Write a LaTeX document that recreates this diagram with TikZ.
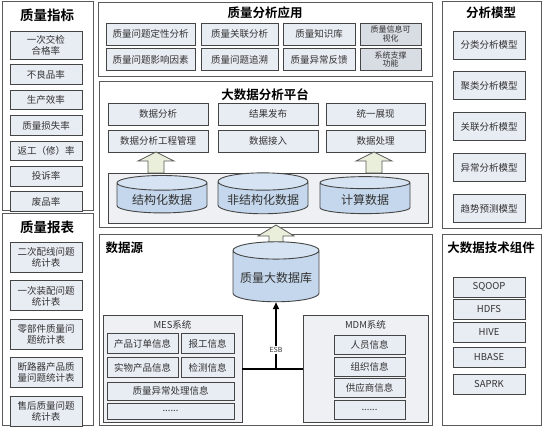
\documentclass[tikz,border=0pt]{standalone}
\usepackage{fontspec}
\setmainfont{Noto Sans CJK SC}[BoldFont={Noto Sans CJK SC Bold}]
\usetikzlibrary{shapes.geometric, arrows.meta, positioning, calc}
\definecolor{panelline}{HTML}{5A5A5A}
\definecolor{boxline}{HTML}{454545}
\definecolor{boxfill}{HTML}{E8ECF3}
\definecolor{darkfill}{HTML}{D8DCE3}
\definecolor{groupfill}{HTML}{EEF0F3}
\definecolor{cylbody}{HTML}{C4D7EC}
\definecolor{cyltop}{HTML}{D6E3F2}
\definecolor{upfill}{HTML}{E9EFDA}
\definecolor{textgrey}{HTML}{333333}

\begin{document}
\begin{tikzpicture}[x=1pt, y=-1pt,
        panel/.style={draw=panelline, line width=1pt, fill=white},
        ptitle/.style={font=\bfseries\fontsize{12.5}{14}\selectfont},
        box/.style={draw=boxline, line width=0.9pt, fill=boxfill, text=textgrey, align=center, inner sep=1pt, font=\fontsize{9.5}{11}\selectfont},
        grp/.style={draw=boxline, line width=0.9pt, fill=groupfill},
        cyl/.style={cylinder, shape border rotate=90, aspect=0.22, draw=boxline, line width=0.9pt, cylinder uses custom fill, cylinder body fill=cylbody, cylinder end fill=cyltop, text=textgrey, font=\fontsize{12}{14}\selectfont},
        uparr/.style={draw=panelline, line width=0.8pt, fill=upfill},
        esb/.style={-{Triangle[length=7pt, width=6pt]}, line width=2pt}
    ]
        \useasboundingbox (0,0) rectangle (543,427);

        % left column
        \draw[panel] (2,2) rectangle (93,211);
        \node[ptitle, font=\bfseries\fontsize{13.5}{15}\selectfont] (zbtitle) at (47,15) {质量指标};
        \node[box, minimum width=72, minimum height=28] (hgl) at (46,45) {一次交检\\合格率};
        \node[box, minimum width=72, minimum height=19.5, below=5pt of hgl] (blp) {不良品率};
        \node[box, minimum width=72, minimum height=19.5, below=5pt of blp] (sxl) {生产效率};
        \node[box, minimum width=72, minimum height=19.5, below=5pt of sxl] (ssl) {质量损失率};
        \node[box, minimum width=72, minimum height=19.5, below=5pt of ssl] (fgl) {返工（修）率};
        \node[box, minimum width=72, minimum height=19.5, below=5pt of fgl] (tsl) {投诉率};
        \node[box, minimum width=72, minimum height=19.5, below=5pt of tsl] (fpl) {废品率};

        \draw[panel] (2,214) rectangle (93,425);
        \node[ptitle, font=\bfseries\fontsize{13.5}{15}\selectfont] (bbtitle) at (47,227) {质量报表};
        \node[box, minimum width=72, minimum height=30] (ecpx) at (46,257.5) {二次配线问题\\统计表};
        \node[box, minimum width=72, minimum height=30, below=7.5pt of ecpx] (yczp) {一次装配问题\\统计表};
        \node[box, minimum width=72, minimum height=30, below=7.5pt of yczp] (lbj) {零部件质量问\\题统计表};
        \node[box, minimum width=72, minimum height=30, below=7.5pt of lbj] (dlq) {断路器产品质\\量问题统计表};
        \node[box, minimum width=72, minimum height=30, below=7.5pt of dlq] (shzl) {售后质量问题\\统计表};

        % quality analysis applications
        \draw[panel] (98,3) rectangle (432,77);
        \node[ptitle] (yytitle) at (265,13) {质量分析应用};
        \node[box, minimum width=89, minimum height=22] (dxfx) at (150.5,34) {质量问题定性分析};
        \node[box, minimum width=77, minimum height=22] (glfx) at (239.5,34) {质量关联分析};
        \node[box, minimum width=72, minimum height=22] (zsk) at (319,34) {质量知识库};
        \node[box, fill=darkfill, minimum width=61, minimum height=22, font=\fontsize{8}{8.5}\selectfont] (ksh) at (390.5,34) {质量信息可\\视化};
        \node[box, minimum width=89, minimum height=22] (yxys) at (150.5,59.5) {质量问题影响因素};
        \node[box, minimum width=77, minimum height=22] (zs) at (239.5,59.5) {质量问题追溯};
        \node[box, minimum width=72, minimum height=22] (ycfk) at (319,59.5) {质量异常反馈};
        \node[box, fill=darkfill, minimum width=61, minimum height=22, font=\fontsize{8}{8.5}\selectfont] (zc) at (390.5,59.5) {系统支撑\\功能};

        % big data platform
        \draw[panel] (99,82) rectangle (432,228);
        \node[ptitle] (pttitle) at (265,95) {大数据分析平台};
        \node[box, minimum width=100, minimum height=22] (sjfx) at (158,114) {数据分析};
        \node[box, minimum width=100, minimum height=22] (jgfb) at (268,114) {结果发布};
        \node[box, minimum width=99, minimum height=22] (tyzx) at (375.5,114) {统一展现};
        \node[box, minimum width=100, minimum height=22] (gcgl) at (158,141) {数据分析工程管理};
        \node[box, minimum width=100, minimum height=22] (sjjr) at (268,141) {数据接入};
        \node[box, minimum width=99, minimum height=22] (sjcl) at (375.5,141) {数据处理};
        \node[grp, minimum width=320, minimum height=50, inner sep=0pt] (store) at (268,198) {};
        \draw[uparr] (148,173) -- ++(0,-12) -- ++(-10,0) -- ++(18,-9) -- ++(18,9) -- ++(-10,0) -- ++(0,12) -- cycle;
        \draw[uparr] (366,173) -- ++(0,-12) -- ++(-10,0) -- ++(18,-9) -- ++(18,9) -- ++(-10,0) -- ++(0,12) -- cycle;
        \node[cyl, minimum width=90, minimum height=37] (jgh) at (162,199.5) {结构化数据};
        \node[cyl, minimum width=90, minimum height=37] (fjgh) at (263,199.5) {非结构化数据};
        \node[cyl, minimum width=90, minimum height=37] (jssj) at (365,199.5) {计算数据};

        % data sources
        \draw[panel] (99,235) rectangle (432,425);
        \node[ptitle, anchor=west] (sytitle) at (102,248) {数据源};
        \draw[uparr] (269,252) -- ++(0,-16) -- ++(-11,0) -- ++(18,-11) -- ++(18,11) -- ++(-11,0) -- ++(0,16) -- cycle;
        \node[cyl, minimum width=86, minimum height=60] (hub) at (276,278) {质量大数据库};

        \node[grp, minimum width=139, minimum height=107] (mes) at (172.5,368.5) {};
        \node[text=textgrey, font=\fontsize{9.5}{11}\selectfont] (mestitle) at (172.5,325) {MES系统};
        \node[box, minimum width=71, minimum height=20] (ddxx) at (142.5,343.5) {产品订单信息};
        \node[box, minimum width=53, minimum height=20] (bgxx) at (207.5,343.5) {报工信息};
        \node[box, minimum width=71, minimum height=20] (swxx) at (142.5,367.5) {实物产品信息};
        \node[box, minimum width=53, minimum height=20] (jcxx) at (207.5,367.5) {检测信息};
        \node[box, minimum width=127, minimum height=18] (ycxx) at (170.5,391) {质量异常处理信息};
        \node[box, minimum width=127, minimum height=16] (mesmore) at (170.5,411) {......};

        \node[grp, minimum width=125, minimum height=107] (mdm) at (365.5,368.5) {};
        \node[text=textgrey, font=\fontsize{9.5}{11}\selectfont] (mdmtitle) at (365.5,325) {MDM系统};
        \node[box, minimum width=71, minimum height=19] (ryxx) at (369.5,344.5) {人员信息};
        \node[box, minimum width=71, minimum height=19] (zzxx) at (369.5,366.5) {组织信息};
        \node[box, minimum width=71, minimum height=19] (gysxx) at (369.5,387.5) {供应商信息};
        \node[box, minimum width=71, minimum height=19] (mdmmore) at (369.5,409.5) {......};

        \coordinate (bus) at (mes.east -| hub.south);
        \draw[line width=2pt] (mes.east) -- (mdm.west);
        \draw[esb] (bus) -- (hub.south);
        \node[fill=white, inner sep=1pt, text=textgrey, font=\fontsize{7}{8}\selectfont] (esblabel) at (276,350) {ESB};

        % right column
        \draw[panel] (442,2) rectangle (541,229);
        \node[ptitle] (mxtitle) at (491,13) {分析模型};
        \node[box, minimum width=72, minimum height=28] (flmx) at (489,45) {分类分析模型};
        \node[box, minimum width=72, minimum height=28, below=12pt of flmx] (jlmx) {聚类分析模型};
        \node[box, minimum width=72, minimum height=28, below=12pt of jlmx] (glmx) {关联分析模型};
        \node[box, minimum width=72, minimum height=28, below=12pt of glmx] (ycmx) {异常分析模型};
        \node[box, minimum width=72, minimum height=28, below=12pt of ycmx] (qsmx) {趋势预测模型};

        \draw[panel] (442,235) rectangle (541,425);
        \node[ptitle] (zjtitle) at (491,248) {大数据技术组件};
        \node[box, minimum width=72, minimum height=20] (sqoop) at (489,287) {SQOOP};
        \node[box, minimum width=72, minimum height=20] (hdfs) at (489,309.5) {HDFS};
        \node[box, minimum width=72, minimum height=20] (hive) at (489,332) {HIVE};
        \node[box, minimum width=72, minimum height=20] (hbase) at (489,357.5) {HBASE};
        \node[box, minimum width=72, minimum height=20] (saprk) at (489,384) {SAPRK};
\end{tikzpicture}
\end{document}
